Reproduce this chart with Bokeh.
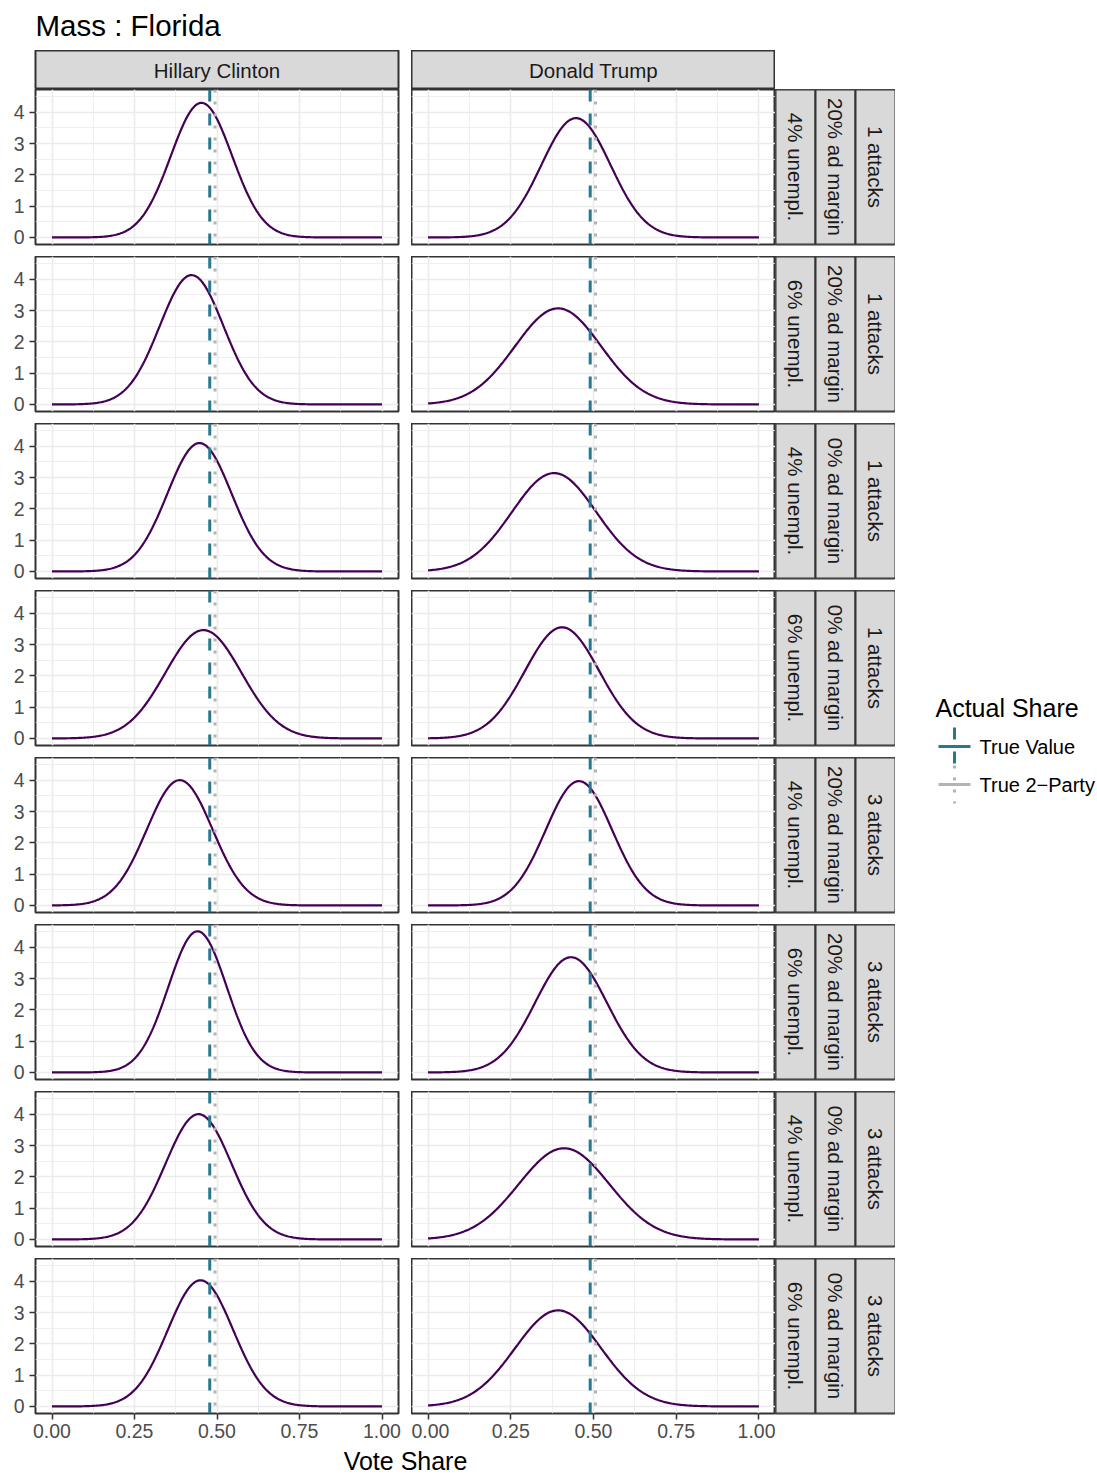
import numpy as np
from bokeh.plotting import figure
from bokeh.layouts import gridplot, column, row
from bokeh.models import Range1d, FixedTicker, Span
from bokeh.core.properties import value
from bokeh.embed import file_html
from bokeh.resources import INLINE

# ---------------- data ----------------
title_text = "Mass : Florida"
candidates = ["Hillary Clinton", "Donald Trump"]
unempl = ["4% unempl.", "6% unempl.", "4% unempl.", "6% unempl.",
          "4% unempl.", "6% unempl.", "4% unempl.", "6% unempl."]
ad_margin = ["20% ad margin", "20% ad margin", "0% ad margin", "0% ad margin",
             "20% ad margin", "20% ad margin", "0% ad margin", "0% ad margin"]
attacks = ["1 attacks", "1 attacks", "1 attacks", "1 attacks",
           "3 attacks", "3 attacks", "3 attacks", "3 attacks"]
# normal density parameters (mean, sd) read from each facet
clinton_mean = [0.453, 0.423, 0.447, 0.459, 0.387, 0.441, 0.444, 0.450]
clinton_sd = [0.0928, 0.0966, 0.0973, 0.1153, 0.0997, 0.0885, 0.0997, 0.0990]
trump_mean = [0.447, 0.393, 0.381, 0.405, 0.456, 0.432, 0.411, 0.393]
trump_sd = [0.1047, 0.1300, 0.1270, 0.1124, 0.1005, 0.1084, 0.1370, 0.1300]
true_value = [0.478, 0.490]
true_two_party = [0.494, 0.506]
x_ticks = [0.0, 0.25, 0.5, 0.75, 1.0]
x_tick_labels = ["0.00", "0.25", "0.50", "0.75", "1.00"]
x_minor = [0.125, 0.375, 0.625, 0.875]
y_ticks = [0, 1, 2, 3, 4]
y_tick_labels = ["0", "1", "2", "3", "4"]
y_minor = [0.5, 1.5, 2.5, 3.5, 4.5]
legend_title = "Actual Share"
legend_labels = ["True Value", "True 2\u2212Party"]
x_axis_title = "Vote Share"

# ---------------- style ----------------
FONT = value("Liberation Sans")
FONT_S = "Liberation Sans"
LINE_COL = "#440154"
TV_COL = "#2A788E"
TP_COL = "#B3B3B3"
STRIP_BG = "#D9D9D9"
BORDER = "#333333"
GRID = "#EBEBEB"
LEFT_PAD = 35
STRIP_FS = "20.5px"

xs = np.linspace(0, 1, 301)


def density(m, s):
    return np.exp(-0.5 * ((xs - m) / s) ** 2) / (s * np.sqrt(2 * np.pi))


def base_fig(fw, fh, **kw):
    p = figure(frame_width=fw, frame_height=fh, output_backend="svg",
               toolbar_location=None, tools="", **kw)
    p.border_fill_color = "white"
    return p


def panel(ci, ri):
    left = ci == 0
    bottom = ri == 7
    p = base_fig(363 if left else 364, 155,
                 x_range=Range1d(-0.05, 1.05), y_range=Range1d(-0.225, 4.725),
                 min_border_left=LEFT_PAD if left else 0, min_border_right=13 if left else 0,
                 min_border_top=0, min_border_bottom=34 if bottom else 12)
    p.background_fill_color = "white"
    p.outline_line_color = BORDER
    p.outline_line_width = 2
    p.xaxis.ticker = FixedTicker(ticks=x_ticks, minor_ticks=x_minor)
    p.yaxis.ticker = FixedTicker(ticks=y_ticks, minor_ticks=y_minor)
    p.xaxis.major_label_overrides = dict(zip(x_ticks, x_tick_labels))
    p.yaxis.major_label_overrides = dict(zip(y_ticks, y_tick_labels))
    for ax in (p.xaxis, p.yaxis):
        ax.axis_line_color = None
        ax.minor_tick_line_color = None
        ax.major_tick_line_color = BORDER
        ax.major_tick_line_width = 1.5
        ax.major_tick_in = 0
        ax.major_tick_out = 6
        ax.major_label_text_font = FONT_S
        ax.major_label_text_font_size = "19.5px"
        ax.major_label_text_color = "#4D4D4D"
    p.xaxis.major_label_standoff = 4
    p.yaxis.major_label_standoff = 5
    p.xaxis.visible = bottom
    p.yaxis.visible = left
    for g in (p.xgrid, p.ygrid):
        g.grid_line_color = GRID
        g.grid_line_width = 1.6
        g.minor_grid_line_color = GRID
        g.minor_grid_line_width = 0.8
    if ci == 0:
        ys = density(clinton_mean[ri], clinton_sd[ri])
    else:
        ys = density(trump_mean[ri], trump_sd[ri])
    p.line(xs, ys, line_color=LINE_COL, line_width=2.2)
    p.add_layout(Span(location=true_value[ci], dimension="height",
                      line_color=TV_COL, line_width=3, line_dash="12 12"))
    p.add_layout(Span(location=true_two_party[ci], dimension="height",
                      line_color=TP_COL, line_width=3, line_dash="3 9"))
    return p


def top_strip(ci):
    left = ci == 0
    p = base_fig(363 if left else 364, 39,
                 x_range=Range1d(0, 1), y_range=Range1d(0, 1),
                 x_axis_type=None, y_axis_type=None,
                 min_border_left=LEFT_PAD if left else 0, min_border_right=13 if left else 0,
                 min_border_top=0, min_border_bottom=0)
    p.background_fill_color = STRIP_BG
    p.outline_line_color = BORDER
    p.outline_line_width = 2
    p.text(x=[0.5], y=[0.5], text=[candidates[ci]], text_align="center",
           text_baseline="middle", text_font=FONT, text_font_size=STRIP_FS,
           text_color="#1A1A1A")
    return p


def right_strip(ri):
    p = base_fig(120, 155, x_range=Range1d(0, 3), y_range=Range1d(0, 1),
                 x_axis_type=None, y_axis_type=None,
                 min_border_left=0, min_border_right=0, min_border_top=0,
                 min_border_bottom=34 if ri == 7 else 12)
    p.background_fill_color = STRIP_BG
    p.outline_line_color = BORDER
    p.outline_line_width = 2
    p.quad(left=[0, 1, 2], right=[1, 2, 3], top=[1, 1, 1], bottom=[0, 0, 0],
           fill_color=STRIP_BG, line_color=BORDER, line_width=2)
    p.text(x=[0.5, 1.5, 2.5], y=[0.5, 0.5, 0.5],
           text=[unempl[ri], ad_margin[ri], attacks[ri]],
           angle=-np.pi / 2, text_align="center", text_baseline="middle",
           text_font=FONT, text_font_size=STRIP_FS, text_color="#1A1A1A")
    return p


rows = [[top_strip(0), top_strip(1), None]]
for ri in range(8):
    rows.append([panel(0, ri), panel(1, ri), right_strip(ri)])
grid = gridplot(rows, toolbar_location=None)

LW = 895  # width of the facet block

# title
TH = 50
tf = base_fig(LW, TH, x_range=Range1d(0, LW), y_range=Range1d(0, TH),
              x_axis_type=None, y_axis_type=None, min_border=0)
tf.outline_line_color = None
tf.text(x=[35], y=[TH - 25], text=[title_text], text_align="left",
        text_baseline="middle", text_font=FONT, text_font_size="29.5px",
        text_color="black")

# x axis title
XH = 27
xf = base_fig(LW, XH, x_range=Range1d(0, LW), y_range=Range1d(0, XH),
              x_axis_type=None, y_axis_type=None, min_border=0)
xf.outline_line_color = None
xf.text(x=[405], y=[XH - 13], text=[x_axis_title], text_align="center",
        text_baseline="middle", text_font=FONT, text_font_size="25px",
        text_color="black")

# legend
LH = 1474
LWID = 1097 - LW
lf = base_fig(LWID, LH, x_range=Range1d(0, LWID), y_range=Range1d(0, LH),
              x_axis_type=None, y_axis_type=None, min_border=0)
lf.outline_line_color = None
lf.text(x=[40], y=[LH - 707], text=[legend_title], text_align="left",
        text_baseline="middle", text_font=FONT, text_font_size="25px",
        text_color="black")
key_cy = [LH - 746, LH - 784]
lf.segment(x0=[43], y0=[key_cy[0]], x1=[75], y1=[key_cy[0]], line_color=TV_COL, line_width=3)
lf.segment(x0=[59], y0=[key_cy[0] + 19], x1=[59], y1=[key_cy[0] - 19],
           line_color=TV_COL, line_width=3, line_dash="12 12")
lf.segment(x0=[43], y0=[key_cy[1]], x1=[75], y1=[key_cy[1]], line_color=TP_COL, line_width=3)
lf.segment(x0=[59], y0=[key_cy[1] + 19], x1=[59], y1=[key_cy[1] - 19],
           line_color=TP_COL, line_width=3, line_dash="3 9")
lf.text(x=[84, 84], y=key_cy, text=legend_labels, text_align="left",
        text_baseline="middle", text_font=FONT, text_font_size="20px",
        text_color="black")

layout = row(column(tf, grid, xf), lf)

open("out.html", "w").write(file_html(layout, INLINE))
